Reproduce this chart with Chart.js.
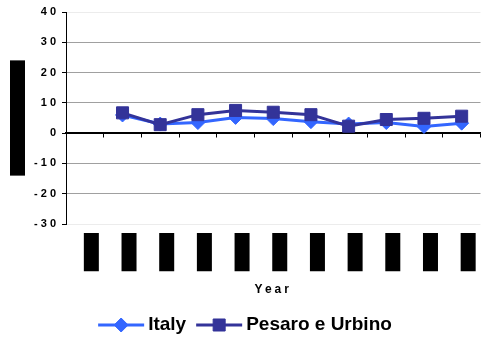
<!DOCTYPE html>
<html>
<head>
<meta charset="utf-8">
<script src="https://cdn.jsdelivr.net/npm/chart.js@4/dist/chart.umd.min.js"></script>
<style>
  html, body { margin: 0; padding: 0; background: #fff; overflow: hidden; }
  canvas { display: block; }
</style>
</head>
<body>
<canvas id="c" width="490" height="342"></canvas>
<script>
// Years on the category axis
const years = ['1995', '1996', '1997', '1998', '1999', '2000', '2001', '2002', '2003', '2004', '2005'];
// Annual change, %
const italy = [null, 6.0, 3.0, 3.5, 5.2, 4.8, 3.8, 3.0, 3.5, 2.2, 3.3];
const pesaroUrbino = [null, 6.7, 2.8, 6.1, 7.5, 6.9, 6.1, 2.3, 4.5, 4.9, 5.6];
// Value axis
const yTicks = { min: -30, max: 40, step: 10 };
const yTitle = 'Variazione %';
const xTitle = 'Year';
const seriesNames = ['Italy', 'Pesaro e Urbino'];

const ITALY_BLUE = '#3366FF';
const PU_BLUE = '#333399';
const FONT = '"Liberation Sans", Arial, sans-serif';

// Spaced-out lettering for the axis text
const spacing = {
  id: 'spacing',
  beforeUpdate(chart) { chart.ctx.letterSpacing = '3px'; },
  beforeDraw(chart) { chart.ctx.letterSpacing = '3px'; },
  afterDraw(chart) { chart.ctx.letterSpacing = '0px'; }
};

// Vertical axis title in a filled band
const sideTitle = {
  id: 'sideTitle',
  afterDraw(chart) {
    const ctx = chart.ctx;
    const area = chart.chartArea;
    ctx.save();
    ctx.letterSpacing = '3px';
    ctx.font = 'bold 11px ' + FONT;
    const w = ctx.measureText(yTitle).width;
    ctx.translate(17.5, (area.top + area.bottom) / 2);
    ctx.rotate(-Math.PI / 2);
    ctx.fillStyle = '#000';
    ctx.fillRect(-w / 2 - 6, -7.5, w + 12, 15);
    ctx.textAlign = 'center';
    ctx.textBaseline = 'middle';
    ctx.fillText(yTitle, 0, 0);
    ctx.restore();
  }
};

// Legend: line sample with marker, then the series name
const lineLegend = {
  id: 'lineLegend',
  afterDraw(chart) {
    const ctx = chart.ctx;
    ctx.save();
    ctx.letterSpacing = '0px';
    ctx.font = 'bold 19px ' + FONT;
    const sampleW = 46, gapText = 4, gapItem = 10;
    const items = chart.data.datasets.map(ds => ({
      ds, tw: ctx.measureText(ds.label).width
    }));
    let total = 0;
    items.forEach((it, i) => { total += sampleW + gapText + it.tw + (i ? gapItem : 0); });
    let x = (chart.width - total) / 2;
    const y = 325;
    items.forEach((it, i) => {
      if (i) x += gapItem;
      const ds = it.ds;
      ctx.strokeStyle = ds.borderColor;
      ctx.fillStyle = ds.pointBackgroundColor;
      ctx.lineWidth = 3;
      ctx.beginPath();
      ctx.moveTo(x, y);
      ctx.lineTo(x + sampleW, y);
      ctx.stroke();
      ctx.lineWidth = 1;
      Chart.helpers.drawPoint(ctx, {
        pointStyle: ds.pointStyle, radius: ds.pointRadius, borderWidth: 1, rotation: 0
      }, x + sampleW / 2, y);
      x += sampleW + gapText;
      ctx.fillStyle = '#000';
      ctx.textAlign = 'left';
      ctx.textBaseline = 'middle';
      ctx.fillText(ds.label, x, y);
      x += it.tw;
    });
    ctx.restore();
  }
};

new Chart(document.getElementById('c'), {
  type: 'line',
  data: {
    labels: years,
    datasets: [
      {
        label: seriesNames[0],
        data: italy,
        borderColor: ITALY_BLUE,
        backgroundColor: ITALY_BLUE,
        pointBackgroundColor: ITALY_BLUE,
        pointBorderColor: ITALY_BLUE,
        borderWidth: 3,
        pointStyle: 'rectRot',
        pointRadius: 7,
        pointBorderWidth: 1,
        order: 1
      },
      {
        label: seriesNames[1],
        data: pesaroUrbino,
        borderColor: PU_BLUE,
        backgroundColor: PU_BLUE,
        pointBackgroundColor: PU_BLUE,
        pointBorderColor: PU_BLUE,
        borderWidth: 3,
        pointStyle: 'rect',
        pointRadius: 8.5,
        pointBorderWidth: 1,
        order: 0
      }
    ]
  },
  options: {
    responsive: false,
    animation: false,
    devicePixelRatio: 1,
    layout: { padding: { left: 26, right: 5, top: 12, bottom: 42 } },
    plugins: {
      legend: { display: false },
      tooltip: { enabled: false }
    },
    scales: {
      x: {
        type: 'category',
        offset: true,
        position: 'bottom',
        grid: { display: false },
        border: { display: false },
        afterFit(s) { s.height = 76; },
        ticks: {
          autoSkip: false,
          minRotation: 90,
          maxRotation: 90,
          padding: 3,
          color: '#000',
          font: { family: FONT, size: 10, weight: 'bold' },
          showLabelBackdrop: true,
          backdropColor: '#000',
          backdropPadding: { top: 1, bottom: 2, left: 2, right: 2 }
        },
        title: {
          display: true,
          text: xTitle,
          color: '#000',
          font: { family: FONT, size: 12, weight: 'bold' },
          padding: { top: 0, bottom: 3 }
        }
      },
      xZero: {
        type: 'category',
        axis: 'x',
        labels: years,
        offset: true,
        position: { y: 0 },
        grid: {
          offset: true,
          drawOnChartArea: false,
          drawTicks: true,
          tickLength: 4,
          color: '#000',
          tickColor: '#000'
        },
        border: { display: true, color: '#000', width: 1.5 },
        ticks: { display: false }
      },
      y: {
        min: yTicks.min,
        max: yTicks.max,
        afterFit(s) { s.width = 40; },
        ticks: {
          stepSize: yTicks.step,
          padding: 3,
          color: '#000',
          font: { family: FONT, size: 11, weight: 'bold' }
        },
        grid: {
          tickLength: 4,
          tickColor: '#000',
          color(c) {
            const v = c.tick ? c.tick.value : null;
            if (v === 0) return '#000';
            if (v === yTicks.min || v === yTicks.max) return '#ececec';
            return '#a0a0a0';
          }
        },
        border: { color: '#000', width: 1 }
      }
    }
  },
  plugins: [spacing, sideTitle, lineLegend]
});
</script>
</body>
</html>
